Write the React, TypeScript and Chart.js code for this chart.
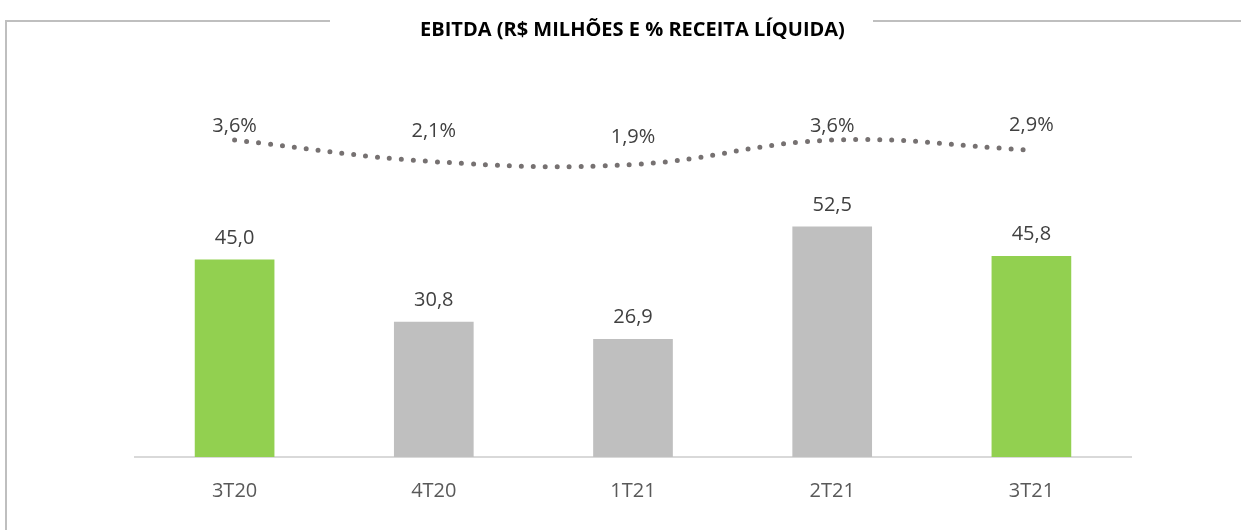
import React, { useEffect, useRef } from "react";
import { Chart, registerables } from "chart.js";

Chart.register(...registerables);

// ---- data ----
const categories = ["3T20", "4T20", "1T21", "2T21", "3T21"];
const ebitda = [45.0, 30.8, 26.9, 52.5, 45.8];
const marginPct = [3.6, 2.1, 1.9, 3.6, 2.9];
const titleText = "EBITDA (R$ MILHÕES E % RECEITA LÍQUIDA)";

// ---- styles ----
const GREEN = "#92D050";
const GRAY = "#BFBFBF";
const barColors = [GREEN, GRAY, GRAY, GRAY, GREEN];
const LINE_COLOR = "#767171";
const LABEL_COLOR = "#404040";
const TICK_COLOR = "#595959";
const FONT = '"Open Sans", "DejaVu Sans", sans-serif';
const pctLabelGaps = [15, 32, 29, 15, 26];
const BAR_LABEL_GAP = 23;

const fmt = (v: number) => v.toFixed(1).replace(".", ",");

const overlayPlugin = {
  id: "overlay",
  beforeDraw(chart: any) {
    const ctx = chart.ctx as CanvasRenderingContext2D;
    ctx.save();
    ctx.strokeStyle = "#BFBFBF";
    ctx.lineWidth = 2;
    ctx.beginPath();
    ctx.moveTo(330, 21);
    ctx.lineTo(6, 21);
    ctx.lineTo(6, 530);
    ctx.moveTo(873, 21);
    ctx.lineTo(1241, 21);
    ctx.stroke();
    ctx.fillStyle = "#000000";
    ctx.font = `bold 20px ${FONT}`;
    ctx.textAlign = "center";
    ctx.textBaseline = "alphabetic";
    ctx.fillText(titleText, 632.5, 36);
    ctx.restore();
  },
  afterDatasetsDraw(chart: any) {
    const ctx = chart.ctx as CanvasRenderingContext2D;
    ctx.save();
    ctx.font = `20px ${FONT}`;
    ctx.fillStyle = LABEL_COLOR;
    ctx.textAlign = "center";
    ctx.textBaseline = "alphabetic";
    const capHalf = 7;
    const barMeta = chart.getDatasetMeta(0);
    barMeta.data.forEach((el: any, i: number) => {
      ctx.fillText(fmt(ebitda[i]), el.x, el.y - BAR_LABEL_GAP + capHalf);
    });
    const lineMeta = chart.getDatasetMeta(1);
    lineMeta.data.forEach((el: any, i: number) => {
      ctx.fillText(fmt(marginPct[i]) + "%", el.x, el.y - pctLabelGaps[i] + capHalf);
    });
    ctx.restore();
  },
};

export default function App() {
  const canvasRef = useRef<HTMLCanvasElement | null>(null);

  useEffect(() => {
    let chart: Chart | null = null;
    let cancelled = false;
    const build = () => {
      if (cancelled || !canvasRef.current) return;
      chart = new Chart(canvasRef.current, {
        type: "bar",
        data: {
          labels: categories,
          datasets: [
            {
              type: "bar",
              label: "EBITDA",
              data: ebitda,
              backgroundColor: barColors,
              borderWidth: 0,
              barPercentage: 0.4,
              categoryPercentage: 1,
              yAxisID: "y",
              order: 2,
            },
            {
              type: "line",
              label: "% Receita Líquida",
              data: marginPct,
              borderColor: LINE_COLOR,
              borderWidth: 5,
              borderDash: [0, 12],
              borderCapStyle: "round",
              pointRadius: 0,
              tension: 0.4,
              fill: false,
              yAxisID: "y2",
              order: 1,
            } as any,
          ],
        },
        options: {
          responsive: false,
          animation: false,
          devicePixelRatio: 1,
          layout: { padding: { left: 135, right: 110, top: 62, bottom: 5 } },
          plugins: {
            legend: { display: false },
            title: { display: false },
            tooltip: { enabled: false },
          },
          scales: {
            x: {
              grid: { display: false, drawTicks: false, tickLength: 0 },
              border: { display: true, color: "#D9D9D9", width: 2 },
              ticks: { color: TICK_COLOR, font: { family: FONT, size: 20 }, padding: 22 },
            },
            y: { display: false, min: 0, max: 90 },
            y2: { display: false, min: -18.41, max: 9.02, position: "right" },
          },
        },
        plugins: [overlayPlugin],
      });
    };
    const fontsApi = (document as any).fonts;
    if (fontsApi && fontsApi.load) {
      Promise.all([
        fontsApi.load(`20px "Open Sans"`),
        fontsApi.load(`bold 20px "Open Sans"`),
      ])
        .catch(() => null)
        .then(build);
    } else {
      build();
    }
    return () => {
      cancelled = true;
      if (chart) chart.destroy();
    };
  }, []);

  return (
    <div style={{ position: "absolute", left: 0, top: 0, width: 1241, height: 530, background: "#fff" }}>
      <canvas ref={canvasRef} width={1241} height={530} style={{ display: "block" }} />
    </div>
  );
}
